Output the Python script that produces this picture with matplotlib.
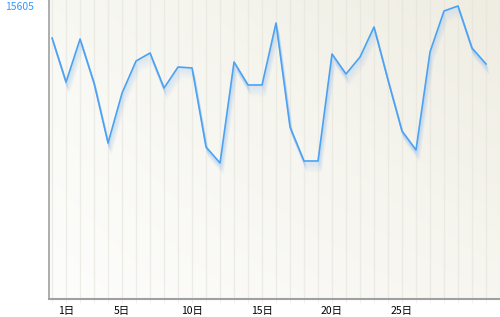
import numpy as np
import matplotlib
matplotlib.use("Agg")
import matplotlib.pyplot as plt
import matplotlib.transforms as mtransforms
from matplotlib.colors import to_rgb

plt.rcParams['font.family'] = ['Noto Sans CJK JP', 'DejaVu Sans']

days = list(range(0, 32))
values = [13901, 11557, 13848, 11504, 8309, 10971, 12676, 13102, 11238, 12356,
          12303, 8096, 7243, 12623, 11398, 11398, 14700, 9161, 7350, 7350,
          13049, 11984, 12889, 14487, 11664, 8948, 7936, 13155, 15339, 15605,
          13368, 12516]
tick_days = [1, 5, 10, 15, 20, 25]
tick_labels = ["1日", "5日", "10日", "15日", "20日", "25日"]
ytick_value = [15605]
ytick_label = ["15605"]

fig = plt.figure(figsize=(5, 3.17), dpi=100)
ax = fig.add_axes([49/500, 1-299/317, 451/500, 299/317])

xlim = (-0.22, 32.0)
ylim = (0, 15605 * 299 / 293)
ax.set_xlim(*xlim)
ax.set_ylim(*ylim)

# background gradient
bl, tl, br, tr = [np.array(to_rgb(c)) for c in ("#fdfdfc", "#f8f8f3", "#f7f6f0", "#efede2")]
ny, nx = 60, 100
u = np.linspace(0, 1, nx)[None, :, None]
v = np.linspace(0, 1, ny)[:, None, None]  # 0 bottom, 1 top
img = (1-u)*(1-v)*bl + (1-u)*v*tl + u*(1-v)*br + u*v*tr
ax.imshow(img, extent=[xlim[0], xlim[1], ylim[0], ylim[1]], origin='lower',
          aspect='auto', zorder=0, interpolation='bilinear')

# vertical grid
for d in range(0, 33):
    ax.axvline(d, color='#e4e3dc', lw=1.0, alpha=0.6, zorder=1)

# shadow
for k in range(1, 12):
    tr_off = mtransforms.offset_copy(ax.transData, fig=fig, x=0.3*k, y=-k, units='dots')
    ax.plot(days, values, color='#9cc4f0', lw=1.2, alpha=0.22*(1-k/12), transform=tr_off, zorder=2,
            solid_joinstyle='miter')

ax.plot(days, values, color='#4ba2f2', lw=1.2, zorder=3)

ax.set_xticks(tick_days)
ax.set_xticklabels(tick_labels, fontsize=7.5)
ax.set_xticks(range(0, 33), minor=True)
ax.tick_params(axis='x', which='major', length=3, color='#eeeeee', pad=2)
ax.tick_params(axis='x', which='minor', length=3, color='#eeeeee')

ax.set_yticks(ytick_value)
ax.set_yticklabels(ytick_label, fontsize=7.5, color='#3399ff')
ax.tick_params(axis='y', length=0, pad=11)

for s in ('top', 'right'):
    ax.spines[s].set_visible(False)
ax.spines['left'].set_color('#a0a0a0')
ax.spines['left'].set_linewidth(1.2)
ax.spines['bottom'].set_color('#a0a0a0')
ax.spines['bottom'].set_linewidth(1.5)

fig.savefig("out.png", dpi=100)
